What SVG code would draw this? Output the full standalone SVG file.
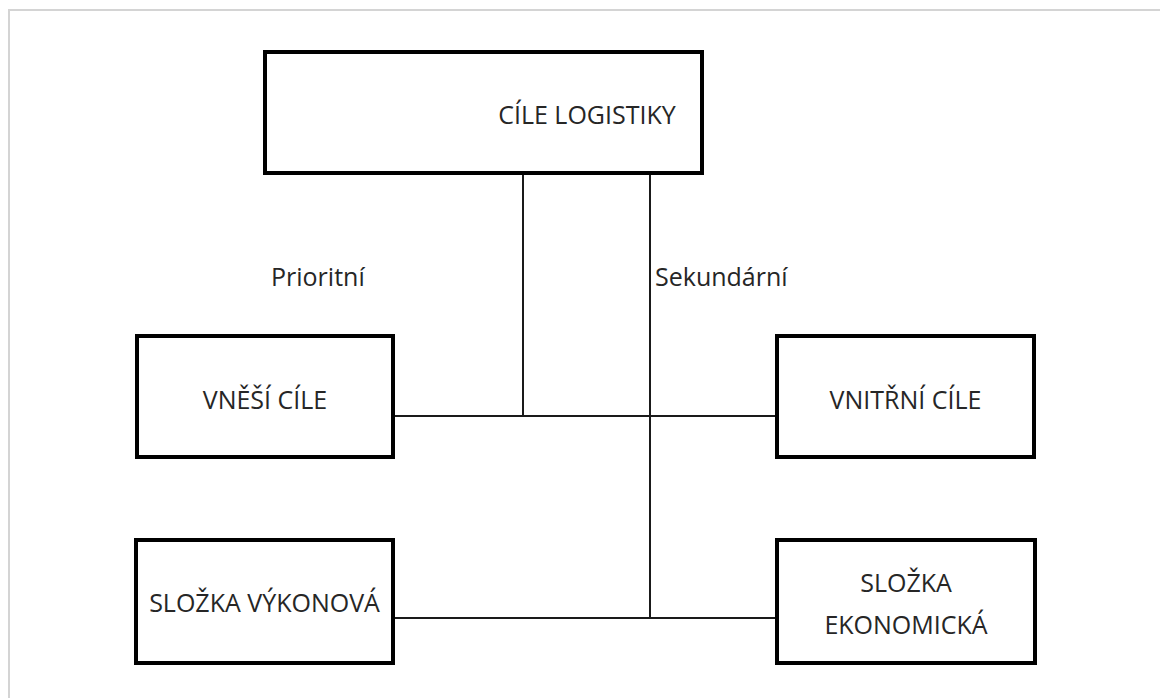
<svg xmlns="http://www.w3.org/2000/svg" width="1160" height="698" viewBox="0 0 1160 698">
<style>
.box{fill:#fff;stroke:#000;stroke-width:4}
.t{font-family:"Open Sans","Liberation Sans",sans-serif;font-size:25px;fill:#262626;text-anchor:middle}
.lbl{font-family:"Open Sans","Liberation Sans",sans-serif;font-size:25px;fill:#262626}
.c{stroke:#1a1a1a;stroke-width:2;fill:none}
</style>
<rect x="0" y="0" width="1160" height="698" fill="#fff"/>
<path d="M9,698 V10 H1160" fill="none" stroke="#d4d4d4" stroke-width="2"/>
<g id="connectors">
<path class="c" d="M523,175 V416"/>
<path class="c" d="M650,175 V618"/>
<path class="c" d="M393,416 H777"/>
<path class="c" d="M393,618 H777"/>
</g>
<g id="cile-logistiky">
<rect class="box" x="265" y="52" width="437" height="121"/>
<text class="t" x="587" y="124">CÍLE LOGISTIKY</text>
</g>
<g id="prioritni">
<text class="lbl" x="271" y="286">Prioritní</text>
</g>
<g id="sekundarni">
<text class="lbl" x="655" y="286">Sekundární</text>
</g>
<g id="vnejsi-cile">
<rect class="box" x="137" y="336" width="256" height="121"/>
<text class="t" x="265" y="409">VNĚŠÍ CÍLE</text>
</g>
<g id="vnitrni-cile">
<rect class="box" x="777" y="336" width="257" height="121"/>
<text class="t" x="905.5" y="409">VNITŘNÍ CÍLE</text>
</g>
<g id="slozka-vykonova">
<rect class="box" x="136" y="540" width="257" height="123"/>
<text class="t" x="264.5" y="612">SLOŽKA VÝKONOVÁ</text>
</g>
<g id="slozka-ekonomicka">
<rect class="box" x="777" y="540" width="258" height="123"/>
<text class="t" x="906" y="592">SLOŽKA</text>
<text class="t" x="906" y="634">EKONOMICKÁ</text>
</g>
</svg>
